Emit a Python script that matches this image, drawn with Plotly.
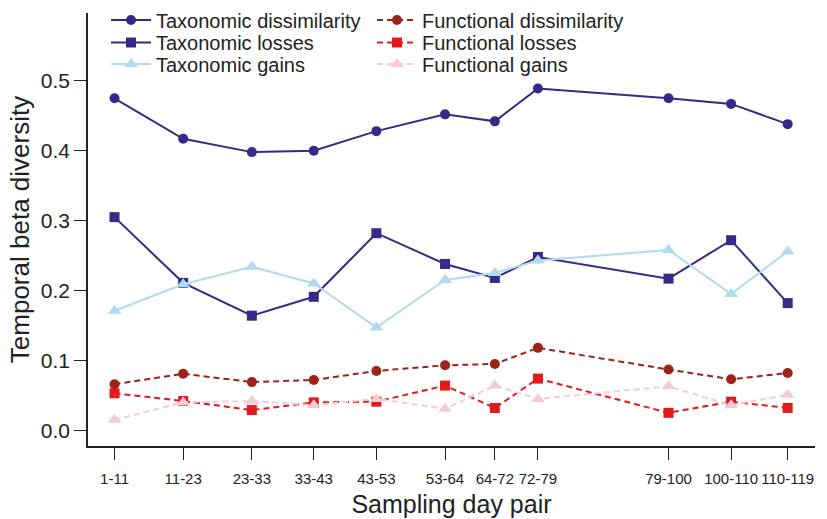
import plotly.graph_objects as go

# Categories (sampling day pairs) and their positions along the x axis
day_pairs = ["1-11", "11-23", "23-33", "33-43", "43-53", "53-64",
             "64-72", "72-79", "79-100", "100-110", "110-119"]
x_pos = [0, 10.2, 20.4, 29.6, 38.9, 49.1, 56.5, 62.9, 82.3, 91.6, 100]

tax_dissim = [0.475, 0.417, 0.398, 0.400, 0.428, 0.452, 0.442, 0.489, 0.475, 0.467, 0.438]
tax_losses = [0.305, 0.211, 0.164, 0.191, 0.282, 0.238, 0.218, 0.248, 0.217, 0.272, 0.182]
tax_gains = [0.171, 0.209, 0.234, 0.210, 0.147, 0.215, 0.225, 0.243, 0.258, 0.195, 0.256]
fun_dissim = [0.066, 0.081, 0.069, 0.072, 0.085, 0.093, 0.095, 0.118, 0.087, 0.073, 0.082]
fun_losses = [0.053, 0.042, 0.029, 0.040, 0.041, 0.064, 0.032, 0.074, 0.025, 0.041, 0.032]
fun_gains = [0.015, 0.040, 0.042, 0.036, 0.045, 0.031, 0.064, 0.045, 0.063, 0.036, 0.051]

y_ticks = [0.0, 0.1, 0.2, 0.3, 0.4, 0.5]

NAVY = "#352A87"
LIGHTBLUE = "#B0DAEE"
DARKRED = "#9B2416"
RED = "#E31A1C"
PINK = "#F5CCD6"

font_family = "Liberation Sans, Arial, Helvetica, sans-serif"
W, H = 827, 519
ML, MR, MT, MB = 88, 12, 13, 73
PW, PH = W - ML - MR, H - MT - MB

fig = go.Figure()

series = [
    ("Taxonomic dissimilarity", tax_dissim, NAVY, "circle", 10, "solid"),
    ("Taxonomic losses", tax_losses, NAVY, "square", 10, "solid"),
    ("Taxonomic gains", tax_gains, LIGHTBLUE, "triangle-up", 12, "solid"),
    ("Functional dissimilarity", fun_dissim, DARKRED, "circle", 10, "6px,4px"),
    ("Functional losses", fun_losses, RED, "square", 10, "6px,4px"),
    ("Functional gains", fun_gains, PINK, "triangle-up", 12, "6px,4px"),
]

# legend slots: (left px, center y px) for each entry, two columns of three rows
legend_left = [106, 106, 106, 372, 372, 372]
legend_row_y = [20, 42.5, 64, 20, 42.5, 64]

layout_legends = {}
for i, (name, vals, col, sym, size, dash) in enumerate(series):
    key = "legend" if i == 0 else f"legend{i + 1}"
    fig.add_trace(go.Scatter(
        x=x_pos, y=vals, name=name, mode="lines+markers",
        line=dict(color=col, width=2, dash=dash),
        marker=dict(symbol=sym, size=size, color=col, line=dict(width=0)),
        legend=key,
    ))
    layout_legends[key] = dict(
        font=dict(family=font_family, size=20, color="#222222"),
        bgcolor="rgba(0,0,0,0)", borderwidth=0,
        itemwidth=40, tracegroupgap=0,
        x=(legend_left[i] - ML) / PW, y=(H - MB - legend_row_y[i]) / PH,
        xanchor="left", yanchor="middle",
    )

fig.update_layout(
    width=W, height=H,
    margin=dict(l=ML, r=MR, t=MT, b=MB, autoexpand=False),
    paper_bgcolor="white", plot_bgcolor="white",
    font=dict(family=font_family, color="#222222"),
    showlegend=True,
    **layout_legends,
    xaxis=dict(
        range=[-3.94, 104.06],
        tickmode="array", tickvals=x_pos, ticktext=day_pairs,
        ticks="outside", ticklen=12, tickwidth=1.2, tickcolor="#222222",
        showline=True, linecolor="#222222", linewidth=1.5,
        showgrid=False, zeroline=False,
        tickfont=dict(size=15, color="#222222"),
        ticklabelstandoff=6,
        title=dict(text="Sampling day pair", font=dict(size=25, color="#222222"), standoff=10),
    ),
    yaxis=dict(
        range=[-0.0224, 0.597],
        tickmode="array", tickvals=y_ticks, ticktext=[f"{v:.1f}" for v in y_ticks],
        ticks="outside", ticklen=12, tickwidth=1.2, tickcolor="#222222",
        showline=True, linecolor="#222222", linewidth=1.5,
        showgrid=False, zeroline=False,
        tickfont=dict(size=21, color="#222222"),
        title=dict(text="Temporal beta diversity", font=dict(size=26, color="#222222"), standoff=4),
    ),
)

fig.write_html("out.html")
